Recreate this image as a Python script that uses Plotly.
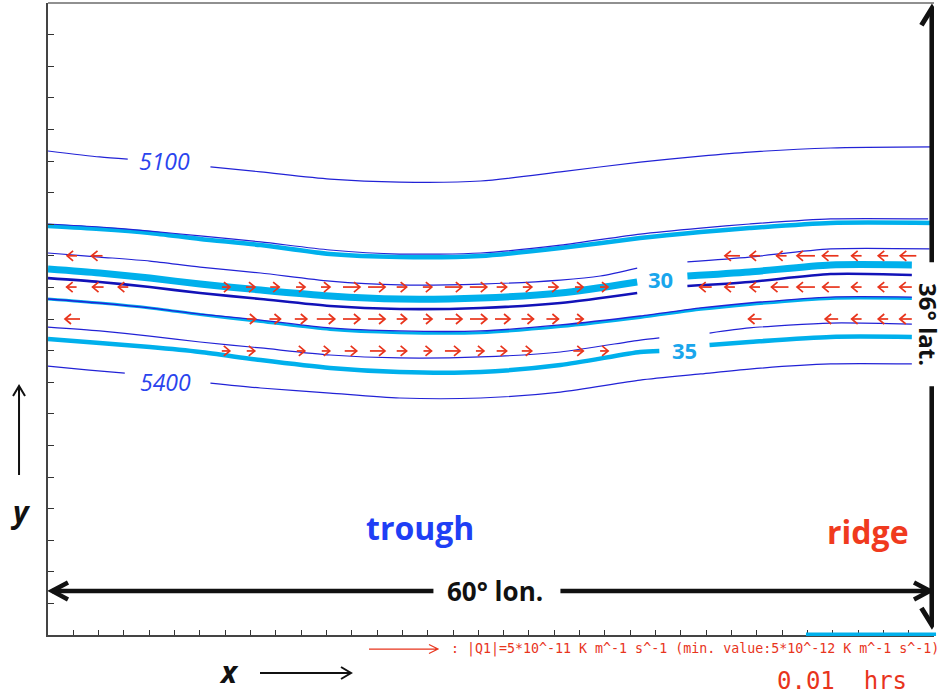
import plotly.graph_objects as go

# ---- model domain: 60 deg longitude x 36 deg latitude on a 35 x 20 grid ----
LON_SPAN = 60.0
LAT_SPAN = 36.0
N_LON = 35
N_LAT = 20

W, H = 946, 698
M_L, M_R, M_T, M_B = 48, 12, 3, 63
PX_PER_LON = (W - M_L - M_R) / LON_SPAN
PX_PER_LAT = (H - M_T - M_B) / LAT_SPAN

# ---- 500 hPa height contours (thin blue); None = gap for a contour label ----
z5100_lon = [0, 3.5, 5.4, None, 11.0, 14.4, 19.1, 23.8, 29.3, 34.7, 40.1, 44.2, 47.5, 53.0, 60.0]
z5100_lat = [27.57, 27.23, 27.11, None, 26.66, 26.38, 25.97, 25.80, 25.86, 26.38, 26.94, 27.28, 27.51, 27.74, 27.80]

z_b_lon = [0, 3.5, 6.9, 10.3, 14.4, 19.1, 23.8, 29.3, 34.7, 40.1, 44.2, 47.5, 53.0, 59.6]
z_b_lat = [23.41, 23.24, 23.01, 22.73, 22.39, 21.93, 21.70, 21.76, 22.21, 22.84, 23.18, 23.41, 23.70, 23.70]

z_c_lon = [0, 3.5, 6.9, 10.3, 14.4, 19.1, 23.8, 29.3, 34.7, 37.4, 39.9, None, 43.3, 47.5, 53.0, 59.7]
z_c_lat = [21.76, 21.53, 21.30, 20.96, 20.62, 20.16, 19.94, 19.99, 20.22, 20.45, 20.90, None, 21.25, 21.53, 21.99, 21.99]

z_d_lon = [0, 3.5, 6.9, 10.3, 14.4, 19.1, 23.8, 29.3, 34.7, 39.9, None, 43.3, 47.5, 53.0, 58.5]
z_d_lat = [20.33, 20.11, 19.82, 19.48, 19.14, 18.74, 18.57, 18.63, 18.91, 19.48, None, 19.88, 20.11, 20.56, 20.51]

z_e_lon = [0, 3.5, 6.9, 10.3, 14.4, 19.1, 23.8, 29.3, 34.7, 40.1, 44.2, 47.5, 53.0, 58.5]
z_e_lat = [19.14, 18.91, 18.63, 18.28, 17.94, 17.49, 17.32, 17.32, 17.66, 18.17, 18.63, 18.91, 19.25, 19.25]

z_f_lon = [0, 3.5, 6.9, 10.3, 14.4, 19.1, 23.8, 29.3, 34.7, 40.1, 41.4, None, 44.8, 47.5, 53.0, 58.5]
z_f_lat = [17.54, 17.32, 17.03, 16.69, 16.35, 15.95, 15.78, 15.84, 16.12, 16.80, 16.92, None, 17.20, 17.49, 17.77, 17.71]

z5400_lon = [0, 2.8, 5.2, None, 11.0, 14.4, 19.1, 23.8, 29.3, 34.7, 40.1, 44.2, 47.5, 53.0, 58.5]
z5400_lat = [15.32, 15.09, 14.92, None, 14.35, 14.07, 13.78, 13.50, 13.50, 13.84, 14.52, 14.87, 15.15, 15.44, 15.44]

# ---- isotherms (cyan) ----
t_a_lon = [0, 3.5, 6.9, 10.3, 14.4, 19.1, 23.8, 29.3, 34.7, 40.1, 44.2, 47.5, 53.0, 60.0]
t_a_lat = [23.30, 23.13, 22.90, 22.56, 22.21, 21.70, 21.53, 21.59, 22.04, 22.61, 22.95, 23.18, 23.47, 23.47]

t30_lon = [0, 3.5, 6.9, 10.3, 14.4, 19.1, 23.8, 29.3, 34.7, 39.9, None, 43.3, 47.5, 53.0, 58.5]
t30_lat = [20.85, 20.62, 20.33, 19.99, 19.65, 19.31, 19.14, 19.20, 19.48, 20.11, None, 20.45, 20.68, 21.08, 21.08]

t_c_lon = [0, 3.5, 6.9, 10.3, 14.4, 19.1, 23.8, 29.3, 34.7, 40.1, 44.2, 47.5, 53.0, 58.5]
t_c_lat = [19.14, 18.91, 18.63, 18.25, 17.86, 17.40, 17.22, 17.22, 17.57, 18.09, 18.55, 18.83, 19.17, 19.17]

t35_lon = [0, 3.5, 6.9, 10.3, 14.4, 19.1, 23.8, 29.3, 34.7, 40.1, 41.4, None, 44.8, 47.5, 53.0, 58.5]
t35_lat = [16.86, 16.63, 16.40, 16.12, 15.66, 15.21, 14.98, 14.98, 15.38, 16.12, 16.18, None, 16.52, 16.69, 16.98, 16.98]

# ---- Q-vector rows: centre longitude and signed zonal value (1e-11 K m^-1 s^-1) ----
qa_lat = 21.6
qa_lon = [1.63, 3.32, 46.35, 47.88, 49.68, 51.33, 52.99, 54.76, 56.56, 58.26]
qa_val = [-0.72, -0.80, -1.09, -0.72, -0.72, -1.30, -1.16, -0.72, -0.72, -1.16]

qb_lat = 19.82
qb_lon = [1.60, 3.39, 5.10, 12.05, 13.71, 15.35, 17.10, 18.79, 20.55, 22.25, 23.95, 25.69,
          27.45, 29.14, 30.72, 32.46, 34.20, 35.96, 37.65, 44.54, 46.18, 47.88, 49.57,
          51.33, 53.04, 54.76, 56.56, 58.09]
qb_val = [-0.72, -0.80, -0.72, 0.58, 0.65, 0.65, 0.65, 0.65, 1.23, 1.23, 0.72, 0.65,
          1.23, 1.23, 0.72, 0.65, 0.72, 0.58, 0.58, -0.87, -0.72, -0.72, -1.23,
          -1.30, -1.23, -0.72, -0.72, -0.87]

qc_lat = 18.0
qc_lon = [1.66, 13.77, 15.37, 17.12, 18.81, 20.55, 22.25, 23.95, 25.70, 27.46, 29.15,
          30.78, 32.47, 34.16, 35.97, 47.88, 53.07, 54.76, 56.56, 58.09]
qc_val = [-1.09, 0.65, 0.80, 0.87, 1.30, 1.23, 1.23, 0.72, 0.65, 1.23, 1.23,
          1.09, 0.87, 0.87, 0.58, -0.94, -0.94, -0.72, -0.72, -0.87]

qd_lat = 16.18
qd_lon = [12.04, 13.73, 17.12, 18.81, 20.50, 22.31, 23.95, 25.70, 27.39, 29.25, 30.72,
          32.42, 35.91, 37.66]
qd_val = [0.58, 0.58, 0.58, 0.58, 0.87, 1.09, 0.72, 0.58, 1.09, 0.58, 0.72,
          0.72, 0.72, 0.58]

Q_REF = 5.0            # reference vector, 1e-11 K m^-1 s^-1
Q_REF_LON = 4.67       # drawn length of the reference vector, deg lon
Q_SCALE = Q_REF_LON / Q_REF
Q_REF_START = 21.74    # lon where the reference vector starts (below the axis)

THIN_BLUE = "#2222d6"
DARK_BLUE = "#1212b8"
CYAN = "#00b0ec"
RED = "#e8341c"
LABEL_BLUE = "#2a44ee"

HEAD_PX = 6.0
HEAD_HALF_PX = 5.0

fig = go.Figure()


def add_line(lon, lat, color, width):
    fig.add_trace(go.Scatter(x=lon, y=lat, mode="lines", hoverinfo="skip",
                             line=dict(color=color, width=width, shape="spline", smoothing=0.7),
                             showlegend=False))


# isotherms underneath
add_line(t_a_lon, t_a_lat, CYAN, 4.5)
add_line(t30_lon, t30_lat, CYAN, 7)
add_line(t_c_lon, t_c_lat, CYAN, 3)
add_line(t35_lon, t35_lat, CYAN, 4.5)

# height contours
add_line(z5100_lon, z5100_lat, THIN_BLUE, 1.2)
add_line(z_b_lon, z_b_lat, THIN_BLUE, 1.2)
add_line(z_c_lon, z_c_lat, THIN_BLUE, 1.2)
add_line(z_d_lon, z_d_lat, DARK_BLUE, 2.6)
add_line(z_e_lon, z_e_lat, THIN_BLUE, 1.3)
add_line(z_f_lon, z_f_lat, THIN_BLUE, 1.2)
add_line(z5400_lon, z5400_lat, THIN_BLUE, 1.2)


def quiver_xy(lons, vals, lat):
    hl = HEAD_PX / PX_PER_LON
    hw = HEAD_HALF_PX / PX_PER_LAT
    xs, ys = [], []
    for c, v in zip(lons, vals):
        length = v * Q_SCALE
        x0, x1 = c - length / 2, c + length / 2
        s = 1 if v > 0 else -1
        xs += [x0, x1, None, x1 - s * hl, x1, x1 - s * hl, None]
        ys += [lat, lat, None, lat + hw, lat, lat - hw, None]
    return xs, ys


for lons, vals, lat in [(qa_lon, qa_val, qa_lat), (qb_lon, qb_val, qb_lat),
                        (qc_lon, qc_val, qc_lat), (qd_lon, qd_val, qd_lat)]:
    qx, qy = quiver_xy(lons, vals, lat)
    fig.add_trace(go.Scatter(x=qx, y=qy, mode="lines", hoverinfo="skip",
                             line=dict(color=RED, width=1.7), showlegend=False))

shapes = []
BLACK = "#111111"

# 60 deg lon double arrow
lat_h = 2.51
x_l, x_r = 0.27, LON_SPAN - 0.27
hl_big = 16 / PX_PER_LON
hw_big = 8.5 / PX_PER_LAT
shapes.append(dict(type="line", xref="x", yref="y", x0=x_l, x1=x_r, y0=lat_h, y1=lat_h,
                   line=dict(color=BLACK, width=4.5)))
shapes.append(dict(type="path", xref="x", yref="y",
                   path=f"M {x_l + hl_big},{lat_h + hw_big} L {x_l},{lat_h} L {x_l + hl_big},{lat_h - hw_big}",
                   line=dict(color=BLACK, width=4.5)))
shapes.append(dict(type="path", xref="x", yref="y",
                   path=f"M {x_r - hl_big},{lat_h + hw_big} L {x_r},{lat_h} L {x_r - hl_big},{lat_h - hw_big}",
                   line=dict(color=BLACK, width=4.5)))
# gap in the arrow for its label
lon_lbl_x = 30.3
shapes.append(dict(type="rect", xref="x", yref="y", x0=lon_lbl_x - 62 / PX_PER_LON,
                   x1=lon_lbl_x + 65 / PX_PER_LON, y0=lat_h - 0.6, y1=lat_h + 0.6,
                   line=dict(width=0), fillcolor="white"))

# 36 deg lat double arrow
lon_v = 59.86
y_b, y_t = 0.57, 35.7
hl_v = 17 / PX_PER_LAT
hw_v = 10.5 / PX_PER_LON
shapes.append(dict(type="line", xref="x", yref="y", x0=lon_v, x1=lon_v, y0=y_b, y1=y_t,
                   line=dict(color=BLACK, width=5)))
shapes.append(dict(type="path", xref="x", yref="y",
                   path=f"M {lon_v - hw_v},{y_t - hl_v} L {lon_v},{y_t} L {lon_v + hw_v},{y_t - hl_v}",
                   line=dict(color=BLACK, width=5)))
shapes.append(dict(type="path", xref="x", yref="y",
                   path=f"M {lon_v - hw_v},{y_b + hl_v} L {lon_v},{y_b} L {lon_v + hw_v},{y_b + hl_v}",
                   line=dict(color=BLACK, width=5)))
lat_lbl_y = 17.7
shapes.append(dict(type="rect", xref="paper", yref="y", x0=0.985, x1=1.02,
                   y0=lat_lbl_y - 62 / PX_PER_LAT, y1=lat_lbl_y + 62 / PX_PER_LAT,
                   line=dict(width=0), fillcolor="white"))

# top frame line
shapes.append(dict(type="line", xref="paper", yref="paper", x0=0, x1=1, y0=1, y1=1,
                   line=dict(color="#222222", width=1.2)))

# time bar along the bottom axis
shapes.append(dict(type="line", xref="paper", yref="paper", x0=0.8555, x1=1.0023,
                   y0=0.001, y1=0.001, line=dict(color=CYAN, width=3.5)))

# reference Q-vector below the axis
pw = W - M_L - M_R
ph = H - M_T - M_B
ref_y = -0.0222
rx0 = Q_REF_START / LON_SPAN
rx1 = (Q_REF_START + Q_REF * Q_SCALE) / LON_SPAN
rhl = 9 / pw
rhw = 4.5 / ph
shapes.append(dict(type="path", xref="paper", yref="paper",
                   path=f"M {rx0},{ref_y} L {rx1},{ref_y} M {rx1 - rhl},{ref_y + rhw} L {rx1},{ref_y} L {rx1 - rhl},{ref_y - rhw}",
                   line=dict(color=RED, width=1.2)))

# x / y direction arrows
ax_y = -0.0601
shapes.append(dict(type="path", xref="paper", yref="paper",
                   path=f"M 0.2393,{ax_y} L 0.3420,{ax_y} M {0.3420 - 10 / pw},{ax_y + 6 / ph} L 0.3420,{ax_y} L {0.3420 - 10 / pw},{ax_y - 6 / ph}",
                   line=dict(color=BLACK, width=2)))
ay_x = -0.0327
shapes.append(dict(type="path", xref="paper", yref="paper",
                   path=f"M {ay_x},0.2532 L {ay_x},0.394 M {ay_x - 6 / pw},{0.394 - 10 / ph} L {ay_x},0.394 L {ay_x + 6 / pw},{0.394 - 10 / ph}",
                   line=dict(color=BLACK, width=2)))

ann = []


def label(x, y, text, size, color, family="Open Sans", xref="x", yref="y",
          xanchor="center", yanchor="middle", **kw):
    ann.append(dict(x=x, y=y, xref=xref, yref=yref, text=text, showarrow=False,
                    xanchor=xanchor, yanchor=yanchor,
                    font=dict(family=family, size=size, color=color), **kw))


label(7.92, 27.0, "<i>5100</i>", 23, LABEL_BLUE)
label(7.99, 14.41, "<i>5400</i>", 23, LABEL_BLUE)
label(41.5, 20.28, "<b>30</b>", 22, "#1aa6ec")
label(43.1, 16.23, "<b>35</b>", 22, "#1aa6ec")
label(25.2, 6.15, "<b>trough</b>", 32, "#1f3ff5")
label(55.53, 5.92, "<b>ridge</b>", 32, "#f03a1e")
label(lon_lbl_x, lat_h, "<b>60° lon.</b>", 26, BLACK)
label(0.9935, lat_lbl_y, "<b>36° lat.</b>", 24, BLACK, xref="paper", textangle=90,
      borderpad=0, height=26)

label(0.2043, -0.0585, "<b><i>x</i></b>", 30, BLACK, xref="paper", yref="paper")
label(-0.0316, 0.1962, "<b><i>y</i></b>", 30, BLACK, xref="paper", yref="paper")
label(0.4526, ref_y, ": |Q1|=5*10^-11 K m^-1 s^-1 (min. value:5*10^-12 K m^-1 s^-1)", 13.3, RED,
      family="DejaVu Sans Mono", xref="paper", yref="paper", xanchor="left")
label(0.896, -0.0728, "0.01  hrs", 24, RED, family="DejaVu Sans Mono", xref="paper", yref="paper")

fig.update_layout(
    width=W, height=H,
    margin=dict(l=M_L, r=M_R, t=M_T, b=M_B, pad=0),
    paper_bgcolor="white", plot_bgcolor="white",
    showlegend=False,
    shapes=shapes, annotations=ann,
    xaxis=dict(range=[0, LON_SPAN], tickmode="linear", tick0=0, dtick=LON_SPAN / N_LON,
               ticks="inside", ticklen=5, tickwidth=1.3, tickcolor="#333333",
               showticklabels=False, showgrid=False, zeroline=False,
               showline=True, linecolor="#444444", linewidth=2, fixedrange=True),
    yaxis=dict(range=[0, LAT_SPAN], tickmode="linear", tick0=0, dtick=LAT_SPAN / N_LAT,
               ticks="inside", ticklen=6, tickwidth=1.3, tickcolor="#333333",
               showticklabels=False, showgrid=False, zeroline=False,
               showline=True, linecolor="#444444", linewidth=2, fixedrange=True),
)

fig.write_html("out.html", config={"displayModeBar": False})
